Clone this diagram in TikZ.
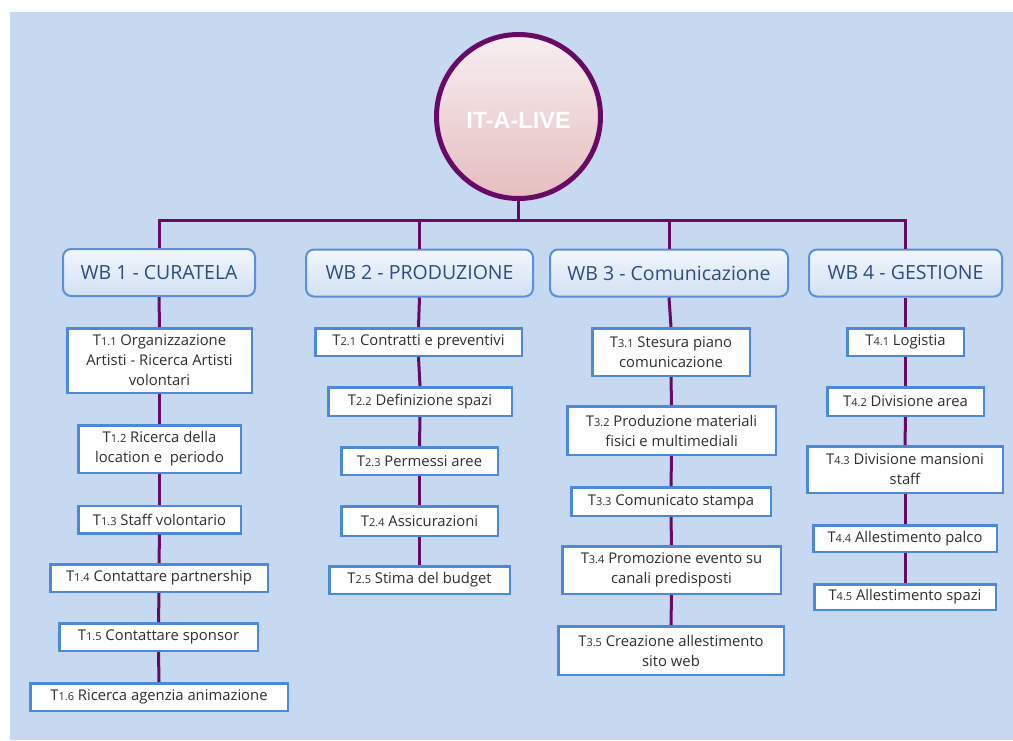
\documentclass[tikz,border=0pt]{standalone}
\usepackage{fontspec}
\setmainfont{Open Sans}
\newfontfamily\titlefont{Liberation Sans}
\definecolor{bgblue}{HTML}{C6D9F0}
\definecolor{linkpurple}{HTML}{660A66}
\definecolor{wbborder}{HTML}{5A90DA}
\definecolor{wbtop}{HTML}{F2F6FC}
\definecolor{wbbot}{HTML}{D2E0F4}
\definecolor{wbtext}{HTML}{2D4E7C}
\definecolor{taskborder}{HTML}{4E88D8}
\definecolor{tasktext}{HTML}{2E2E2E}
\definecolor{roottop}{HTML}{F7EEF0}
\definecolor{rootbot}{HTML}{E6BDBF}
\newcommand\tn[1]{T{\fontsize{11}{12}\selectfont #1}}
\begin{document}
\begin{tikzpicture}[x=1pt,y=-1pt,
  wbbox/.style={draw=wbborder, line width=2pt, rounded corners=8pt, top color=wbtop, bottom color=wbbot, text=wbtext, font=\fontsize{19.5}{22}\selectfont, inner sep=0pt, minimum height=47pt},
  task/.style={draw=taskborder, line width=2.5pt, fill=white, text=tasktext, font=\fontsize{14.8}{20}\selectfont, align=center, inner sep=0pt},
  link/.style={draw=linkpurple, line width=3pt}]
\useasboundingbox (0,0) rectangle (1013,740);
\fill[bgblue] (9.5,12) rectangle (1013,740);

% root
\node[circle, draw=linkpurple, line width=5pt, top color=roottop, bottom color=rootbot, minimum size=164pt, inner sep=0pt] (root) at (518.5,116.5) {};
\node[text=white, font=\titlefont\bfseries\fontsize{23.5}{26}\selectfont] (title) at (518.5,120) {IT-A-LIVE};

% work blocks
\node[wbbox, minimum width=192pt] (wb1) at (159,272.5) {WB 1 - CURATELA};
\node[wbbox, minimum width=227pt] (wb2) at (419.5,273) {WB 2 - PRODUZIONE};
\node[wbbox, minimum width=238pt] (wb3) at (669,273) {WB 3 - Comunicazione};
\node[wbbox, minimum width=193pt] (wb4) at (905.5,273) {WB 4 - GESTIONE};

% column 1
\node[task, minimum width=184.5pt, minimum height=64.5pt] (t11) at (159.5,360.5) {\tn{1.1} Organizzazione\\Artisti - Ricerca Artisti\\volontari};
\node[task, minimum width=162.5pt, minimum height=47.5pt] (t12) at (159.5,449) {\tn{1.2} Ricerca della\\location e \ periodo};
\node[task, minimum width=162.5pt, minimum height=27.5pt] (t13) at (159.5,519.5) {\tn{1.3} Staff volontario};
\node[task, minimum width=217.5pt, minimum height=27.5pt] (t14) at (159,578) {\tn{1.4} Contattare partnership};
\node[task, minimum width=198.5pt, minimum height=27.5pt] (t15) at (158.5,637) {\tn{1.5} Contattare sponsor};
\node[task, minimum width=257.5pt, minimum height=27.5pt] (t16) at (159,697) {\tn{1.6} Ricerca agenzia animazione};

% column 2
\node[task, minimum width=206.5pt, minimum height=27.5pt] (t21) at (418.5,342) {\tn{2.1} Contratti e preventivi};
\node[task, minimum width=183.5pt, minimum height=28.5pt] (t22) at (420,401.5) {\tn{2.2} Definizione spazi};
\node[task, minimum width=156.5pt, minimum height=27.5pt] (t23) at (419.5,461) {\tn{2.3} Permessi aree};
\node[task, minimum width=156.5pt, minimum height=29.5pt] (t24) at (419.5,521) {\tn{2.4} Assicurazioni};
\node[task, minimum width=180.5pt, minimum height=27.5pt] (t25) at (419.5,580) {\tn{2.5} Stima del budget};

% column 3
\node[task, minimum width=157.5pt, minimum height=47.5pt] (t31) at (671,352) {\tn{3.1} Stesura piano\\comunicazione};
\node[task, minimum width=208.5pt, minimum height=48.5pt] (t32) at (671.5,430.5) {\tn{3.2} Produzione materiali\\fisici e multimediali};
\node[task, minimum width=199.5pt, minimum height=28.5pt] (t33) at (671,501.5) {\tn{3.3} Comunicato stampa};
\node[task, minimum width=218.5pt, minimum height=47.5pt] (t34) at (671.5,570) {\tn{3.4} Promozione evento su\\canali predisposti};
\node[task, minimum width=225.5pt, minimum height=48.5pt] (t35) at (671,650.5) {\tn{3.5} Creazione allestimento\\sito web};

% column 4
\node[task, minimum width=116.5pt, minimum height=27.5pt] (t41) at (905.5,342) {\tn{4.1} Logistia};
\node[task, minimum width=156.5pt, minimum height=28.5pt] (t42) at (905.5,401.5) {\tn{4.2} Divisione area};
\node[task, minimum width=195.5pt, minimum height=46.5pt] (t43) at (905,469.5) {\tn{4.3} Divisione mansioni\\staff};
\node[task, minimum width=183.5pt, minimum height=26.5pt] (t44) at (905,538.5) {\tn{4.4} Allestimento palco};
\node[task, minimum width=181.5pt, minimum height=25.5pt] (t45) at (905,597) {\tn{4.5} Allestimento spazi};

% connectors
\coordinate (hub) at (518.5,220);
\draw[link] (root.south) -- (hub);
\draw[link] (wb1.north) |- (hub) -| (wb4.north);
\draw[link] (wb2.north) -- (wb2.north |- hub);
\draw[link] (wb3.north) -- (wb3.north |- hub);

\draw[link] (wb1.south) -- (t11.north);
\draw[link] (t11.south) -- (t12.north);
\draw[link] (t12.south) -- (t13.north);
\draw[link] (t13.south) -- (t14.north);
\draw[link] (t14.south) -- (t15.north);
\draw[link] (t15.south) -- (t16.north);

\draw[link] (wb2.south) -- (t21.north);
\draw[link] (t21.south) -- (t22.north);
\draw[link] (t22.south) -- (t23.north);
\draw[link] (t23.south) -- (t24.north);
\draw[link] (t24.south) -- (t25.north);

\draw[link] (wb3.south) -- (t31.north);
\draw[link] (t31.south) -- (t32.north);
\draw[link] (t32.south) -- (t33.north);
\draw[link] (t33.south) -- (t34.north);
\draw[link] (t34.south) -- (t35.north);

\draw[link] (wb4.south) -- (t41.north);
\draw[link] (t41.south) -- (t42.north);
\draw[link] (t42.south) -- (t43.north);
\draw[link] (t43.south) -- (t44.north);
\draw[link] (t44.south) -- (t45.north);
\end{tikzpicture}
\end{document}
